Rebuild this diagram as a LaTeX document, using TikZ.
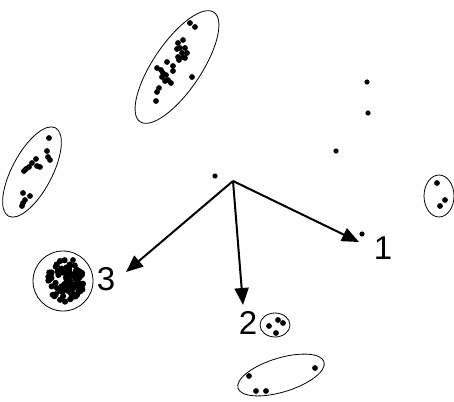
\documentclass[tikz,border=0pt]{standalone}
\usepackage{fontspec}
\setmainfont{Liberation Sans}
\usetikzlibrary{arrows.meta}

\tikzset{
	dot/.style={fill=black},
	hull/.style={draw=black, line width=0.8pt},
	pull/.style={-{Triangle[length=17pt, width=14pt]}, line width=2pt},
	num/.style={inner sep=0pt, font=\fontsize{33}{33}\selectfont}
}

\begin{document}
\begin{tikzpicture}[x=1pt, y=-1pt]
		\useasboundingbox (0,0) rectangle (454,401);

		% Upper elongated cluster
		\draw[hull, rotate around={56:(177,67)}] (177,67) ellipse [x radius=66, y radius=24];
		\foreach \p in {(190,23),(195,27),(183,40),(178,43),(177,49),(180,48),(185,48),(187,53),(182,53),(178,57),
			(183,57),(179,60),(185,58),(167,62),(173,66),(173,71),(157,68),(161,70),(163,73),(162,77),
			(166,75),(168,80),(171,83),(165,81),(159,88),(157,92),(156,101),(192,77)}
			\fill[dot] \p circle (2.9pt);

		% Left cluster
		\draw[hull, rotate around={62:(32,172)}] (32,172) ellipse [x radius=50, y radius=20];
		\foreach \p in {(49,138),(47,151),(48,157),(50,160),(36,159),(37,166),(40,167),(32,163),(29,167),(26,169),
			(24,171),(23,193),(30,196),(25,200),(23,203),(22,206)}
			\fill[dot] \p circle (2.9pt);

		% Dense cluster 3
		\draw[hull] (63,281) circle (30);
		\pgfmathsetseed{17}
		\foreach \i in {1,...,95} {
			\pgfmathsetmacro\r{19*sqrt(rnd)}
			\pgfmathsetmacro\a{360*rnd}
			\fill[dot] ({65+\r*cos(\a)},{281+1.1*\r*sin(\a)}) circle (3.1pt);
		}
		\fill[dot] (73,260) circle (2.9pt);

		% Small cluster next to 2
		\draw[hull] (275,325) ellipse [x radius=15, y radius=12];
		\foreach \p in {(269,326),(278,320),(283,323),(276,333)}
			\fill[dot] \p circle (2.9pt);

		% Bottom cluster
		\draw[hull, rotate around={17:(281,375)}] (281,375) ellipse [x radius=45, y radius=17];
		\foreach \p in {(249,376),(315,368),(256,391),(266,391)}
			\fill[dot] \p circle (2.9pt);

		% Right cluster
		\draw[hull] (439,196) ellipse [x radius=15, y radius=21];
		\foreach \p in {(437,183),(445,200),(440,206)}
			\fill[dot] \p circle (2.9pt);

		% Single points
		\foreach \p in {(367,82),(368,113),(336,151),(362,234),(215,176)}
			\fill[dot] \p circle (2.6pt);

		% Arrows
		\coordinate (o) at (233,181);
		\coordinate (t1) at (359,242);
		\coordinate (t2) at (243,305);
		\coordinate (t3) at (126,272);
		\draw[pull] (o) -- (t1);
		\draw[pull] (o) -- (t2);
		\draw[pull] (o) -- (t3);

		% Labels
		\node[num] (one) at (383,248) {1};
		\node[num] (two) at (248,323) {2};
		\node[num] (three) at (106,279) {3};
	\end{tikzpicture}
\end{document}
